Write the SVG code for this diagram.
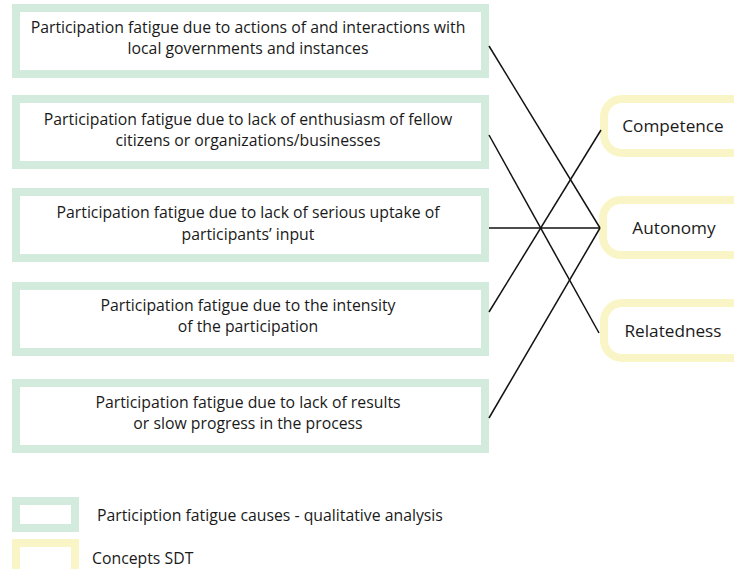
<svg xmlns="http://www.w3.org/2000/svg" width="734" height="569" viewBox="0 0 734 569">
<style>
.cause{fill:#ffffff;stroke:#d3ebdd;stroke-width:8}
.sdt{fill:#ffffff;stroke:#f9f5c6;stroke-width:8}
text{font-family:"Open Sans","Liberation Sans",Arial,sans-serif;font-size:15.8px;fill:#1a1a1a}
.c{text-anchor:middle}
.s{font-size:17.2px}
.conn line{stroke:#111;stroke-width:1.5}
</style>
<rect width="734" height="569" fill="#ffffff"/>
<g id="cause1"><rect class="cause" x="16" y="8" width="469" height="66"/><text class="c" x="248" y="33">Participation fatigue due to actions of and interactions with</text><text class="c" x="248" y="54">local governments and instances</text></g>
<g id="cause2"><rect class="cause" x="16" y="99" width="469" height="66"/><text class="c" x="248" y="125">Participation fatigue due to lack of enthusiasm of fellow</text><text class="c" x="248" y="146">citizens or organizations/businesses</text></g>
<g id="cause3"><rect class="cause" x="16" y="192" width="469" height="66"/><text class="c" x="248" y="218">Participation fatigue due to lack of serious uptake of</text><text class="c" x="248" y="240">participants’ input</text></g>
<g id="cause4"><rect class="cause" x="16" y="286" width="469" height="66"/><text class="c" x="248" y="311">Participation fatigue due to the intensity</text><text class="c" x="248" y="332">of the participation</text></g>
<g id="cause5"><rect class="cause" x="16" y="383" width="469" height="66"/><text class="c" x="248" y="408">Participation fatigue due to lack of results</text><text class="c" x="248" y="429">or slow progress in the process</text></g>
<g id="competence"><rect class="sdt" x="604" y="99" width="160" height="54" rx="18"/><text class="c s" x="673" y="132">Competence</text></g>
<g id="autonomy"><rect class="sdt" x="603" y="200" width="160" height="55" rx="18"/><text class="c s" x="674" y="234">Autonomy</text></g>
<g id="relatedness"><rect class="sdt" x="604" y="303" width="160" height="55" rx="18"/><text class="c s" x="673" y="337">Relatedness</text></g>
<g id="connectors" class="conn">
<line x1="489" y1="46" x2="600" y2="228"/>
<line x1="489" y1="135" x2="599" y2="333"/>
<line x1="489" y1="228" x2="600" y2="228"/>
<line x1="489" y1="312" x2="601" y2="130"/>
<line x1="489" y1="418" x2="600" y2="228"/>
</g>
<g id="legend">
<rect class="cause" x="16" y="501" width="59" height="27"/>
<text x="97" y="521">Particiption fatigue causes - qualitative analysis</text>
<rect class="sdt" x="16" y="543" width="59" height="30"/>
<text x="92" y="564">Concepts SDT</text>
</g>
</svg>
